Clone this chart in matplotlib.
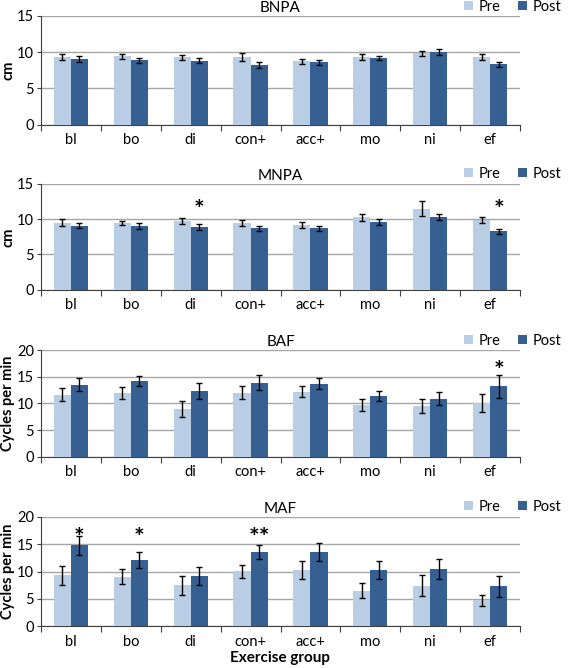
import numpy as np
import matplotlib
matplotlib.use('Agg')
import matplotlib.pyplot as plt
from matplotlib.patches import Patch

# exercise groups on the x axis
groups = ['bl', 'bo', 'di', 'con+', 'acc+', 'mo', 'ni', 'ef']

# BNPA (cm)
bnpa_pre = [9.3, 9.4, 9.25, 9.3, 8.7, 9.35, 9.85, 9.3]
bnpa_pre_err = [0.4, 0.3, 0.4, 0.55, 0.3, 0.4, 0.35, 0.45]
bnpa_post = [9.0, 8.85, 8.8, 8.2, 8.6, 9.15, 10.0, 8.3]
bnpa_post_err = [0.4, 0.3, 0.35, 0.4, 0.35, 0.3, 0.35, 0.3]

# MNPA (cm)
mnpa_pre = [9.5, 9.5, 9.75, 9.5, 9.15, 10.3, 11.5, 9.9]
mnpa_pre_err = [0.5, 0.3, 0.4, 0.4, 0.45, 0.5, 1.05, 0.45]
mnpa_post = [9.1, 9.0, 8.9, 8.7, 8.7, 9.65, 10.3, 8.3]
mnpa_post_err = [0.4, 0.4, 0.4, 0.4, 0.35, 0.4, 0.45, 0.35]

# BAF (cycles per min)
baf_pre = [11.6, 11.9, 9.0, 12.0, 12.2, 9.7, 9.5, 10.1]
baf_pre_err = [1.2, 1.1, 1.5, 1.2, 1.1, 1.1, 1.4, 1.7]
baf_post = [13.5, 14.2, 12.3, 13.9, 13.7, 11.4, 10.9, 13.2]
baf_post_err = [1.25, 0.9, 1.5, 1.4, 1.1, 1.0, 1.3, 2.2]

# MAF (cycles per min)
maf_pre = [9.3, 9.1, 7.5, 10.1, 10.3, 6.5, 7.4, 4.8]
maf_pre_err = [1.7, 1.3, 1.7, 1.2, 1.6, 1.4, 1.9, 1.0]
maf_post = [14.8, 12.1, 9.2, 13.6, 13.6, 10.3, 10.5, 7.3]
maf_post_err = [1.8, 1.5, 1.6, 1.3, 1.6, 1.6, 1.8, 1.9]

# significance marks: (group index, text, height)
bnpa_sig = []
mnpa_sig = [(2, '*', 11.3), (7, '*', 11.3)]
baf_sig = [(7, '*', 15.9)]
maf_sig = [(0, '*', 16.0), (1, '*', 16.0), (3, '**', 16.0)]

PRE_COLOR = '#B9CDE5'
POST_COLOR = '#376092'
GRID_COLOR = '#A6A6A6'

plt.rcParams['font.family'] = ['Lato', 'DejaVu Sans']

W, H = 572, 668
fig = plt.figure(figsize=(W / 100, H / 100), dpi=100)


def draw_panel(top_px, bottom_px, title, pre, pre_err, post, post_err,
               ymax, ystep, ylabel, sig, legend_y_px):
    left_px, right_px = 41, 520
    ax = fig.add_axes([left_px / W, 1 - bottom_px / H,
                       (right_px - left_px) / W, (bottom_px - top_px) / H])
    x = np.arange(len(groups)) + 0.5
    width = 0.286
    ekw = dict(ecolor='black', elinewidth=1.0, capsize=2.5, capthick=1.0)
    ax.bar(x - width / 2, pre, width, color=PRE_COLOR, yerr=pre_err,
           error_kw=ekw, zorder=3)
    ax.bar(x + width / 2, post, width, color=POST_COLOR, yerr=post_err,
           error_kw=ekw, zorder=3)
    ax.set_xlim(0, len(groups))
    ax.set_ylim(0, ymax)
    ax.set_yticks(np.arange(0, ymax + 0.1, ystep))
    ax.yaxis.grid(True, color=GRID_COLOR, linewidth=1.0, zorder=0)
    ax.set_axisbelow(True)
    # category labels in the middle, tick marks on the boundaries
    ax.set_xticks(x)
    ax.set_xticklabels(groups)
    ax.set_xticks(np.arange(len(groups) + 1), minor=True)
    ax.tick_params(axis='x', which='major', length=0, pad=6, labelsize=10.5)
    ax.tick_params(axis='x', which='minor', length=4, width=0.8,
                   direction='out', color='#404040')
    ax.tick_params(axis='y', length=3, width=0.8, labelsize=10.5, pad=2,
                   color='#404040')
    for side in ['top', 'right']:
        ax.spines[side].set_visible(False)
    ax.spines['left'].set_color('#404040')
    ax.spines['bottom'].set_color('#404040')
    ax.spines['left'].set_linewidth(0.8)
    ax.spines['bottom'].set_linewidth(0.8)
    ax.set_ylabel(ylabel, fontsize=10.5, fontweight='bold')
    ax.yaxis.set_label_coords(-0.054, 0.5)
    ax.set_title(title, fontsize=11, pad=3)
    for i, txt, yy in sig:
        ax.text(x[i] + width / 2, yy, txt, ha='center', va='center',
                fontsize=18, fontweight='bold')
    handles = [Patch(facecolor=PRE_COLOR, label='Pre'),
               Patch(facecolor=POST_COLOR, label='Post')]
    ax.legend(handles=handles, loc='center right', frameon=False, ncol=2,
              bbox_to_anchor=(569 / W, 1 - legend_y_px / H),
              bbox_transform=fig.transFigure, fontsize=10.5,
              handlelength=0.6, handleheight=0.6, handletextpad=0.4,
              columnspacing=1.2, borderpad=0)
    return ax


draw_panel(15.7, 124.7, 'BNPA', bnpa_pre, bnpa_pre_err, bnpa_post,
           bnpa_post_err, 15, 5, 'cm', bnpa_sig, 7)
draw_panel(184, 289.7, 'MNPA', mnpa_pre, mnpa_pre_err, mnpa_post,
           mnpa_post_err, 15, 5, 'cm', mnpa_sig, 174)
draw_panel(350, 456.7, 'BAF', baf_pre, baf_pre_err, baf_post,
           baf_post_err, 20, 5, 'Cycles per min', baf_sig, 341)
ax = draw_panel(517, 626.3, 'MAF', maf_pre, maf_pre_err, maf_post,
                maf_post_err, 20, 5, 'Cycles per min', maf_sig, 507)
ax.set_xlabel('Exercise group', fontsize=11, fontweight='bold', labelpad=2)

fig.savefig('out.png', dpi=100)
